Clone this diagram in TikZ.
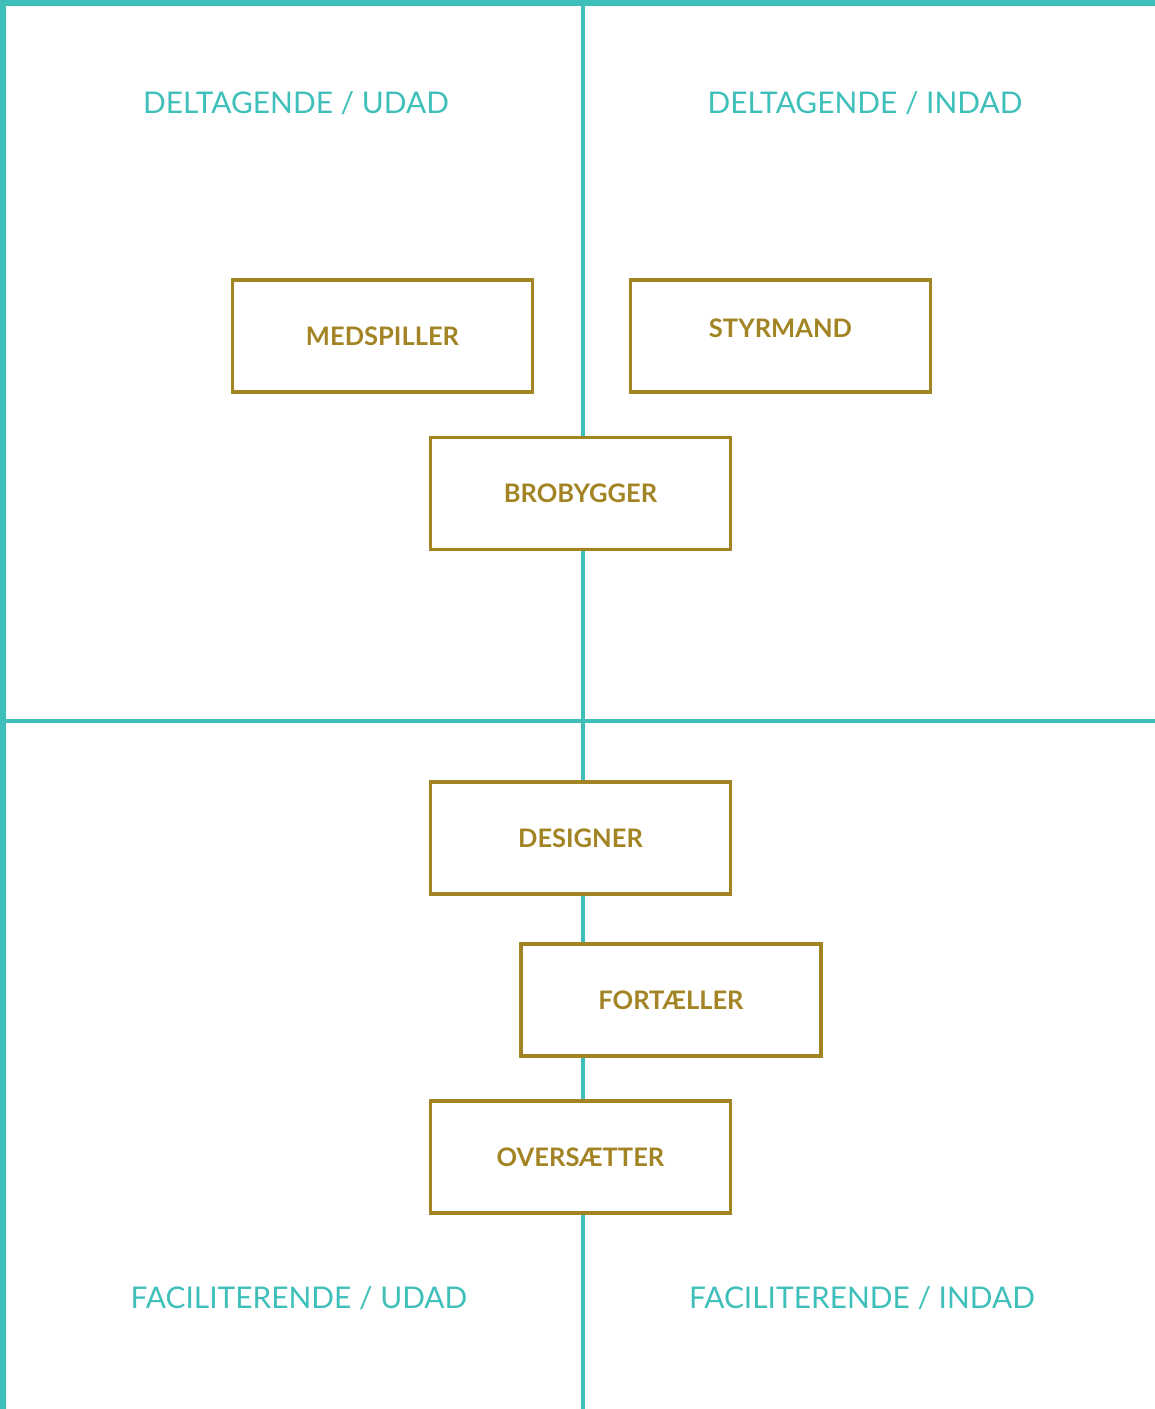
\documentclass[tikz,border=0pt]{standalone}
\usepackage{fontspec}
\setmainfont{Lato}
\usepackage{xcolor}
\usetikzlibrary{positioning, calc}

\definecolor{teal}{HTML}{3EBFB9}
\definecolor{gold}{HTML}{A38425}

\tikzset{
	rolebox/.style={draw=gold, line width=1pt, fill=white, minimum width=3.0cm, minimum height=1.12cm, inner sep=0pt, text=gold, font=\fontsize{7.25}{8}\selectfont\bfseries},
	quadlabel/.style={text=teal, font=\fontsize{8.5}{10}\selectfont},
	axisline/.style={teal, line width=1.15pt}
}

\begin{document}
\begin{tikzpicture}[x=0.01cm, y=-0.01cm]
	% Define constants
	\def\W{1155}  % width in px
	\def\H{1409}  % height in px
	\def\mx{583}  % vertical axis
	\def\my{721}  % horizontal axis
	
	\useasboundingbox (0,0) rectangle (\W,\H);
	
	% Frame (top and left edges)
	\fill[teal] (0,0) rectangle (\W,6);
	\fill[teal] (0,0) rectangle (6,\H);
	
	% Draw axes
	\draw[axisline] (\mx,0) -- (\mx,\H);
	\draw[axisline] (0,\my) -- (\W,\my);
	
	% Add quadrant labels
	\node[quadlabel] (du) at (296,103) {DELTAGENDE / UDAD};
	\node[quadlabel] (di) at (865,103) {DELTAGENDE / INDAD};
	\node[quadlabel] (fu) at (299,1298) {FACILITERENDE / UDAD};
	\node[quadlabel] (fi) at (862,1298) {FACILITERENDE / INDAD};
	
	% Role boxes
	\node[rolebox] (medspiller) at (382.5,336) {MEDSPILLER};
	\node[rolebox, text depth=0.16cm] (styrmand) at (780.5,336) {STYRMAND};
	\node[rolebox] (brobygger) at (580.5,493.5) {BROBYGGER};
	\node[rolebox] (designer) at (580.5,838) {DESIGNER};
	\node[rolebox] (fortaeller) at (671,1000) {FORTÆLLER};
	\node[rolebox] (oversaetter) at (580.5,1157) {OVERSÆTTER};
	
\end{tikzpicture}
\end{document}
